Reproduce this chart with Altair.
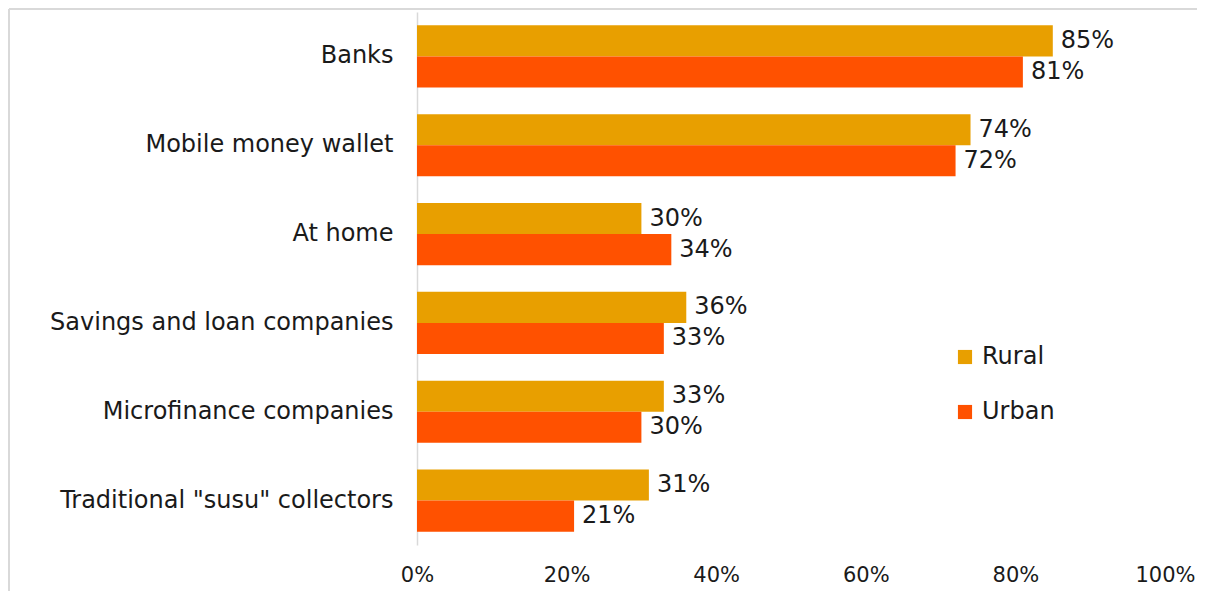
import altair as alt
import pandas as pd

categories = ["Banks", "Mobile money wallet", "At home", "Savings and loan companies",
              "Microfinance companies", "Traditional \"susu\" collectors"]
rural = [85, 74, 30, 36, 33, 31]
urban = [81, 72, 34, 33, 30, 21]
series = ["Rural", "Urban"]
colors = ["#E89F00", "#FF5100"]

rows = []
for c, r, u in zip(categories, rural, urban):
    rows.append({"cat": c, "series": "Rural", "value": r / 100, "label": f"{r}%"})
    rows.append({"cat": c, "series": "Urban", "value": u / 100, "label": f"{u}%"})
df = pd.DataFrame(rows)

FONT = "DejaVu Sans"
W, H = 748, 533

ybase = alt.Y("cat:N", sort=categories, title=None,
              scale=alt.Scale(paddingInner=0.3, paddingOuter=0.15),
              axis=alt.Axis(domainColor="#D9D9D9", domainWidth=1.5, ticks=False,
                            labelPadding=24, labelFontSize=24, labelFont=FONT,
                            labelColor="#1a1a1a", labelLimit=420))
xbase = alt.X("value:Q", title=None,
              scale=alt.Scale(domain=[0, 1], nice=False),
              axis=alt.Axis(format=".0%", values=[0, 0.2, 0.4, 0.6, 0.8, 1.0],
                            grid=False, domain=False, ticks=False, labelPadding=19,
                            labelFontSize=21, labelFont=FONT, labelColor="#1a1a1a",
                            labelFlush=False))

base = alt.Chart(df).encode(
    y=ybase,
    yOffset=alt.YOffset("series:N", sort=series),
)

bars = base.mark_bar().encode(
    x=xbase,
    color=alt.Color("series:N", sort=series,
                    scale=alt.Scale(domain=series, range=colors),
                    legend=alt.Legend(title=None, orient="none", legendX=536, legendY=333,
                                      symbolType="square", symbolSize=200, symbolStrokeWidth=0,
                                      labelFontSize=24, labelFont=FONT, labelColor="#1a1a1a",
                                      rowPadding=31, labelOffset=5)),
)

labels = base.mark_text(align="left", baseline="middle", dx=8, fontSize=24,
                        font=FONT, color="#1a1a1a").encode(
    x=alt.X("value:Q"),
    text="label:N",
)

border = alt.Chart(pd.DataFrame({"a": [0]})).mark_rule(color="#D9D9D9", strokeWidth=2).encode(
    x=alt.value(-408), x2=alt.value(W + 40), y=alt.value(-3)
)
border2 = alt.Chart(pd.DataFrame({"a": [0]})).mark_rule(color="#D9D9D9", strokeWidth=2).encode(
    x=alt.value(-408), y=alt.value(-3), y2=alt.value(H + 60)
)

chart = alt.layer(bars, labels, border, border2).properties(
    width=W, height=H,
    autosize=alt.AutoSizeParams(type="none"),
    padding={"left": 409, "top": 4, "right": 32, "bottom": 46},
    background="white",
).configure_view(stroke=None)

chart.save("out.html", embed_options={"renderer": "svg", "actions": False})
